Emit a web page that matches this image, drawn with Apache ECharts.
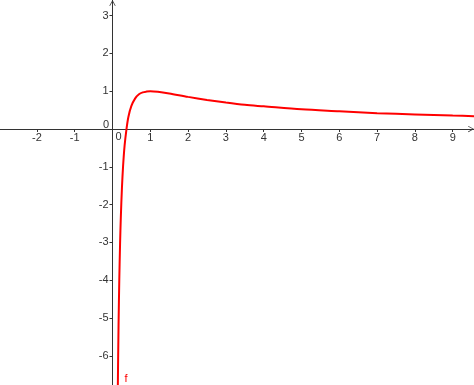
<!DOCTYPE html>
<html>
<head>
<meta charset="utf-8">
<script src="https://cdn.jsdelivr.net/npm/echarts@6/dist/echarts.min.js"></script>
<style>
html,body{margin:0;padding:0;background:#fff;}
#c{width:474px;height:385px;}
</style>
</head>
<body>
<div id="c"></div>
<script>
// Tick values
const xTicks = [-2, -1, 0, 1, 2, 3, 4, 5, 6, 7, 8, 9];
const yTicks = [-6, -5, -4, -3, -2, -1, 0, 1, 2, 3];
const xLabels = [-2, -1, 1, 2, 3, 4, 5, 6, 7, 8, 9];
const yLabels = [-6, -5, -4, -3, -2, -1, 1, 2, 3];
// Curve f, values
const fX = [0.12, 0.14, 0.16, 0.18, 0.2, 0.22, 0.25, 0.28, 0.32, 0.37, 0.42, 0.5, 0.6, 0.7, 0.8, 0.9, 1.0, 1.2, 1.5, 2, 2.5, 3, 3.5, 4, 5, 6, 7, 8, 9, 9.6];
const fY = [-9.3, -6.9, -5.2, -3.97, -3.05, -2.34, -1.55, -0.98, -0.44, 0.0, 0.32, 0.61, 0.81, 0.92, 0.97, 0.99, 1.0, 0.985, 0.94, 0.85, 0.77, 0.70, 0.64, 0.60, 0.52, 0.47, 0.42, 0.385, 0.355, 0.34];
const seriesName = 'f';

const FONT = 'Liberation Sans';
const AX = '#333';
const arrow = 'path://M0,9 L5,0 L10,9 L9,9.6 L5,2.2 L1,9.6 Z';

const W = 474, H = 385;
const chart = echarts.init(document.getElementById('c'), null, {renderer: 'canvas'});
const data = fX.map((x, i) => [x, fY[i]]);
const axisLine = {onZero: false, lineStyle: {color: AX, width: 1}, symbol: ['none', arrow], symbolSize: [8, 6], symbolOffset: [0, -3]};
chart.setOption({
  animation: false,
  grid: {left: 0, right: 0, top: 0, bottom: 0, containLabel: false, outerBoundsMode: 'none'},
  xAxis: {
    type: 'value', min: -2.976, max: 9.563, position: 'bottom',
    splitLine: {show: false},
    axisLine: axisLine,
    axisTick: {show: true, length: 3, inside: false, customValues: xTicks, lineStyle: {color: AX}},
    axisLabel: {customValues: xLabels, margin: 3, color: AX, fontFamily: FONT, fontSize: 11}
  },
  yAxis: {
    type: 'value', min: -6.772, max: 3.413, position: 'left',
    splitLine: {show: false},
    axisLine: axisLine,
    axisTick: {show: true, length: 3, inside: false, customValues: yTicks, lineStyle: {color: AX}},
    axisLabel: {customValues: yLabels, margin: 4, color: AX, fontFamily: FONT, fontSize: 11}
  },
  series: [{
    name: seriesName, type: 'line', data: data, smooth: 0.3, symbol: 'none', clip: true,
    lineStyle: {color: '#ff0000', width: 2}
  }]
});
const o = chart.convertToPixel({gridIndex: 0}, [0, 0]);
const fl = chart.convertToPixel({gridIndex: 0}, [0.36, -6.6]);
chart.setOption({
  xAxis: {offset: -(H - o[1])},
  yAxis: {offset: -o[0]},
  graphic: [
    {type: 'text', x: o[0] + 6, y: o[1] + 7.5, style: {text: '0', fill: AX, font: '11px ' + FONT, align: 'center', verticalAlign: 'middle'}},
    {type: 'text', x: o[0] - 6.5, y: o[1] - 4, style: {text: '0', fill: AX, font: '11px ' + FONT, align: 'center', verticalAlign: 'middle'}},
    {type: 'text', x: fl[0], y: fl[1], style: {text: seriesName, fill: '#ff0000', font: '11px ' + FONT, align: 'center', verticalAlign: 'middle'}}
  ]
});
</script>
</body>
</html>
